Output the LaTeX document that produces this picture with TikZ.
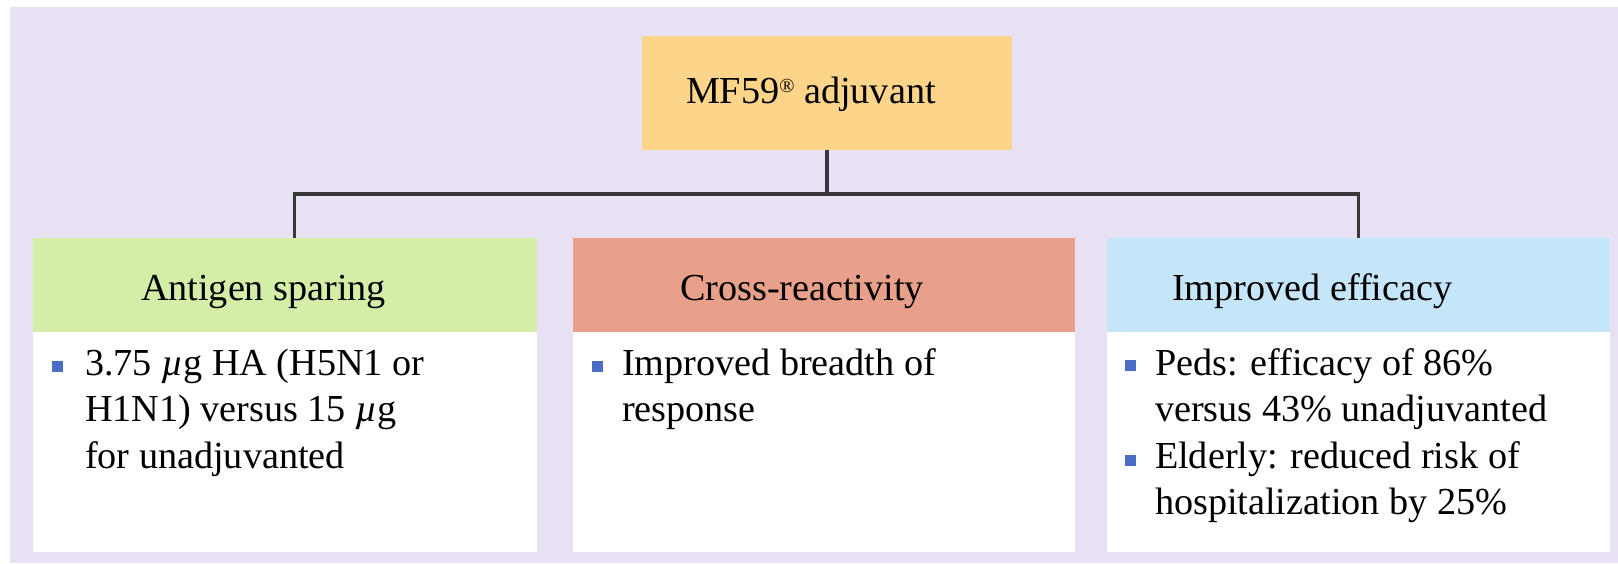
\documentclass[tikz,border=0pt]{standalone}
\usepackage{fontspec}
\setmainfont{Liberation Serif}
\definecolor{lav}{HTML}{E8E0F3}
\definecolor{topfill}{HTML}{FDD58A}
\definecolor{greenfill}{HTML}{D4EEA8}
\definecolor{salmonfill}{HTML}{E8A08A}
\definecolor{bluefill}{HTML}{C5E6F8}
\definecolor{bulletblue}{HTML}{4A6DC6}
\definecolor{linegray}{HTML}{383838}
\newcommand{\myfs}{\fontsize{19.1pt}{23.4pt}\selectfont}
\newcommand{\myreg}{\raisebox{0.62ex}{\fontsize{10pt}{10pt}\selectfont ®}}
\begin{document}
\begin{tikzpicture}[x=0.5pt,y=-0.5pt,
  panel/.style={fill=white, draw=none, inner sep=0pt, outer sep=0pt, anchor=north west, minimum height=157pt},
  head/.style={draw=none, inner sep=0pt, outer sep=0pt, anchor=north west, minimum height=47pt},
  txt/.style={anchor=base west, inner sep=0pt, outer sep=0pt, font=\myfs, text=black},
  bul/.style={fill=bulletblue, draw=none, minimum size=5.5pt, inner sep=0pt, anchor=center},
  conn/.style={draw=linegray, line width=1.6pt}
]
\useasboundingbox (0,0) rectangle (1618,563);
\fill[lav] (10,7) rectangle (1618,563);

% top box
\node[fill=topfill, inner sep=0pt, outer sep=0pt, anchor=north west,
      minimum width=185pt, minimum height=57pt] (mf) at (642,36) {};
\node[txt] (mft) at (686,103) {MF59\myreg\ adjuvant};

% panels
\node[panel, minimum width=252pt] (gbox) at (33,238) {};
\node[head, fill=greenfill, minimum width=252pt] (ghead) at (33,238) {};
\node[panel, minimum width=251pt] (obox) at (573,238) {};
\node[head, fill=salmonfill, minimum width=251pt] (ohead) at (573,238) {};
\node[panel, minimum width=251.5pt] (bbox) at (1107,238) {};
\node[head, fill=bluefill, minimum width=251.5pt] (bhead) at (1107,238) {};

% headers
\node[txt] (gt) at (141,300) {Antigen sparing};
\node[txt] (ot) at (680,300) {Cross-reactivity};
\node[txt] (bt) at (1172,300) {Improved efficacy};

% connectors
\coordinate (jn) at (827,194);
\draw[conn] (mf.south) -- (jn);
\draw[conn] ([xshift=4.75pt]ghead.north) |- (jn) -| (bhead.north);

% green body
\node[bul] (gb1) at (57,366) {};
\node[txt] (g1) at (85,375) {3.75 {\itshape µ}g HA (H5N1 or};
\node[txt] (g2) at (85,421.5) {H1N1) versus 15 {\itshape µ}g};
\node[txt] (g3) at (85,468) {for unadjuvanted};

% orange body
\node[bul] (ob1) at (597,366) {};
\node[txt] (o1) at (622,375) {Improved breadth of};
\node[txt] (o2) at (622,421.5) {response};

% blue body
\node[bul] (bb1) at (1130,365) {};
\node[txt] (b1) at (1155,375) {Peds: efficacy of 86\%};
\node[txt] (b2) at (1155,421.5) {versus 43\% unadjuvanted};
\node[bul] (bb2) at (1130,460) {};
\node[txt] (b3) at (1155,468) {Elderly: reduced risk of};
\node[txt] (b4) at (1155,514.5) {hospitalization by 25\%};
\end{tikzpicture}
\end{document}
